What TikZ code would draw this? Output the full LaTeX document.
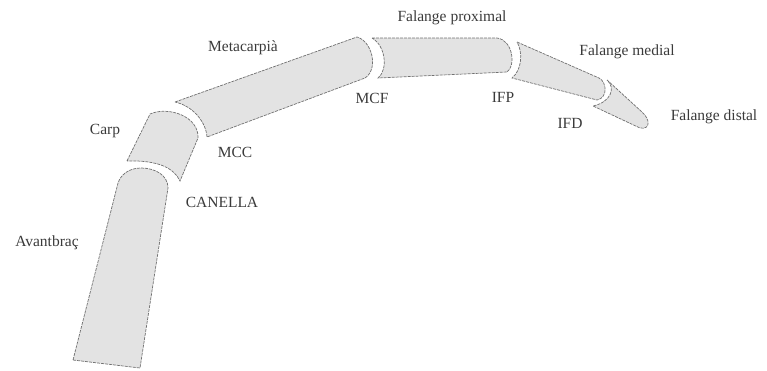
\documentclass[tikz,border=0pt]{standalone}
\usepackage{fontspec}
\setmainfont{Liberation Serif}
\usetikzlibrary{positioning}
\definecolor{bonegray}{HTML}{E3E3E3}
\definecolor{edgegray}{HTML}{707070}
\definecolor{labelgray}{HTML}{3A3A3A}
\tikzset{
bone/.style={
  fill=bonegray,
  draw=edgegray,
  dash pattern=on 3pt off 1pt,
  line width=0.7pt
  },
lbl/.style={
  text=labelgray,
  inner sep=0pt,
  font=\fontsize{15.5}{16}\selectfont
  }
}

\begin{document}
\begin{tikzpicture}[x=1pt,y=-1pt]
\useasboundingbox (0,0) rectangle (767,370);

% forearm
\draw[bone] (73,360) -- (117,187)
  .. controls (119,174) and (130,168) .. (141,168)
  .. controls (155,168) and (168,175) .. (168,188)
  -- (140,368) -- cycle;

% carpus
\draw[bone] (127,161) -- (150,114)
  .. controls (168,106) and (199,116) .. (198,138)
  -- (180,181)
  .. controls (174,168) and (158,160) .. (127,161) -- cycle;

% metacarpal
\draw[bone] (175,102) -- (357,37)
  .. controls (372,41) and (379,69) .. (365,78)
  -- (207,137)
  .. controls (206,122) and (193,106) .. (175,102) -- cycle;

% proximal phalanx
\draw[bone] (372,38) -- (497,38)
  .. controls (513,40) and (516,66) .. (507,72)
  -- (378,78)
  .. controls (388,70) and (386,46) .. (372,38) -- cycle;

% medial phalanx
\draw[bone] (517,42) -- (599,78)
  .. controls (607,82) and (608,98) .. (597,100)
  -- (512,78)
  .. controls (522,70) and (523,52) .. (517,42) -- cycle;

% distal phalanx
\draw[bone] (607,80) -- (642,112)
  .. controls (650,119) and (651,130) .. (640,128)
  -- (593,106)
  .. controls (611,102) and (616,88) .. (607,80) -- cycle;

% labels
\node[lbl] (avantbrac) at (47,243) {Avantbraç};
\node[lbl] (carp) at (105,131) {Carp};
\node[lbl] (canella) at (222,202) {CANELLA};
\node[lbl] (mcc) at (235,152) {MCC};
\node[lbl] (metacarpia) at (243,48) {Metacarpià};
\node[lbl] (mcf) at (372,98) {MCF};
\node[lbl] (fproximal) at (452,18) {Falange proximal};
\node[lbl] (ifp) at (503,97) {IFP};
\node[lbl] (fmedial) at (627,52) {Falange medial};
\node[lbl] (ifd) at (570,123) {IFD};
\node[lbl] (fdistal) at (714,117) {Falange distal};
\end{tikzpicture}
\end{document}
